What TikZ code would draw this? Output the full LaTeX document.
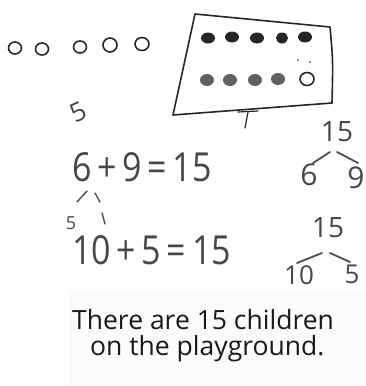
\documentclass[tikz,border=0pt]{standalone}
\usepackage{fontspec}
\setmainfont{Open Sans}
\usetikzlibrary{shapes.geometric}
\begin{document}
\begin{tikzpicture}[x=1pt,y=-1pt,
  ink/.style={draw=black!85, line width=1.6pt, line cap=round, line join=round},
  pencil/.style={draw=black!70, line width=1.8pt, line cap=round, line join=round},
  ocirc/.style={ellipse, draw=black!85, line width=1.6pt, minimum width=13pt, minimum height=12pt, inner sep=0pt},
  dotA/.style={ellipse, fill=black!85, minimum width=14pt, minimum height=11pt, inner sep=0pt},
  dotB/.style={ellipse, fill=black!62, minimum width=14pt, minimum height=12pt, inner sep=0pt},
  hand/.style={inner sep=0pt, text=black!72},
  eqn/.style={hand, font=\fontsize{40}{40}\selectfont, xscale=0.85, anchor=west},
  sent/.style={inner sep=0pt, text=black!90, font=\fontsize{26.5}{30}\selectfont},
]
\useasboundingbox (0,0) rectangle (366,386);
\fill[black!1.5] (70,290) rectangle (366,386);

% five open circles
\node[ocirc] (c1) at (15,48) {};
\node[ocirc] (c2) at (42,49) {};
\node[ocirc] (c3) at (80,47) {};
\node[ocirc, minimum width=14pt, minimum height=14pt] (c4) at (110,45) {};
\node[ocirc, minimum width=14pt, minimum height=13pt] (c5) at (142,44) {};
\node[hand, rotate=25, font=\fontsize{26}{26}\selectfont] (five) at (78,112) {5};

% box
\draw[ink] (195,14) -- (330,27) .. controls (333,60) .. (332,103) -- (173,115) -- cycle;
\coordinate (tl) at (238,112);
\coordinate (tr) at (258,111);
\coordinate (tm) at (248,112);
\coordinate (tb) at (245,128);
\draw[ink, line width=1.2pt] (tl) -- (tr);
\draw[ink, line width=1.2pt] (tm) -- (tb);

\node[dotA] (d1) at (208,38) {};
\node[dotA] (d2) at (232,37) {};
\node[dotA] (d3) at (257,38) {};
\node[dotA, minimum width=12pt] (d4) at (282,38) {};
\node[dotA] (d5) at (305,37) {};
\node[dotB] (e1) at (207,80) {};
\node[dotB] (e2) at (230,80) {};
\node[dotB] (e3) at (255,80) {};
\node[dotB] (e4) at (278,79) {};
\node[ocirc, minimum width=14pt, minimum height=13pt] (e5) at (307,79) {};
\fill[black!70] (298,60) circle (1pt) (310,62) circle (1pt);

% equations
\node[eqn] (eq1) at (72,167) {6\,+\,9\,=\,15};
\coordinate (ta) at (77,202);
\coordinate (tp) at (87,191);
\coordinate (tq) at (95,193);
\coordinate (tc) at (100,202);
\draw[pencil, line width=1.4pt] (ta) -- (tp) (tq) -- (tc);
\node[hand, font=\fontsize{18}{18}\selectfont] (s5) at (71,223) {5};
\coordinate (o1) at (102,213);
\coordinate (o2) at (105,224);
\draw[pencil, line width=1.4pt] (o1) -- (o2);
\node[eqn] (eq2) at (72,250) {10\,+\,5\,=\,15};

% right trees
\node[hand, font=\fontsize{28}{28}\selectfont] (r15) at (337,132) {15};
\node[hand, font=\fontsize{30}{30}\selectfont] (r6) at (309,175) {6};
\node[hand, font=\fontsize{30}{30}\selectfont] (r9) at (356,178) {9};
\coordinate (a1) at (330,152);
\coordinate (a2) at (313,163);
\coordinate (b1) at (337,152);
\coordinate (b2) at (358,163);
\draw[pencil] (a1) -- (a2) (b1) -- (b2);

\node[hand, font=\fontsize{28}{28}\selectfont] (s15) at (328,228) {15};
\node[hand, font=\fontsize{26}{26}\selectfont, anchor=north] (s10) at (299,265) {10};
\node[hand, font=\fontsize{26}{26}\selectfont, anchor=north] (s5b) at (352,265) {5};
\coordinate (f1) at (322,253);
\coordinate (f2) at (297,263);
\coordinate (g1) at (330,253);
\coordinate (g2) at (350,262);
\draw[pencil] (f1) -- (f2) (g1) -- (g2);

% sentence
\node[sent, anchor=base west] (l1) at (72,329) {There are 15 children};
\node[sent, anchor=base west] (l2) at (90,355) {on the playground.};
\end{tikzpicture}
\end{document}
